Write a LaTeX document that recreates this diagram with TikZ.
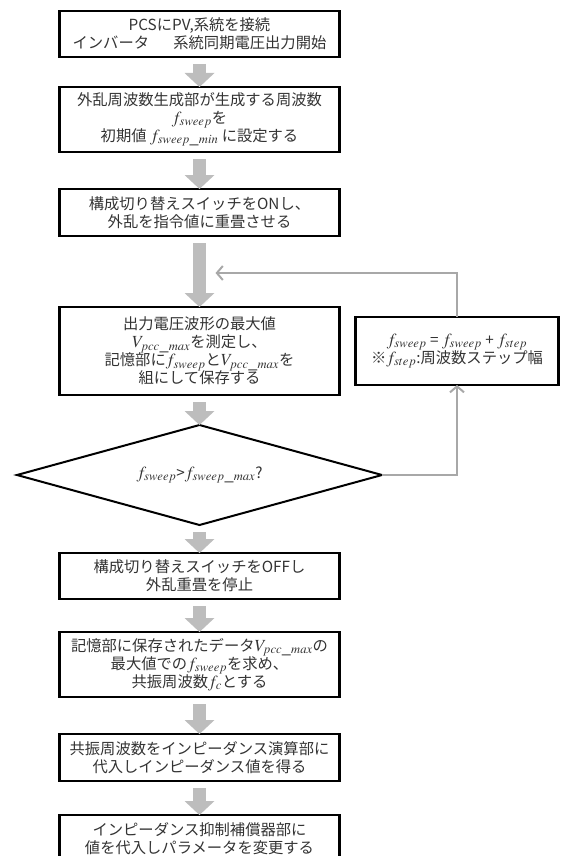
\documentclass[tikz,border=0pt]{standalone}
\usepackage{mathptmx}
\usepackage{fontspec}
\setmainfont{Noto Sans CJK JP}
\usepackage{tikz}
\usetikzlibrary{shapes.geometric, arrows.meta, positioning, calc}

\definecolor{flowgray}{HTML}{BDBDBD}
\definecolor{loopgray}{HTML}{A8A8A8}
\newcommand{\mv}[1]{{\fontsize{17pt}{17pt}\selectfont$#1$}}
\newcommand{\boxfont}{\fontsize{15.3pt}{18pt}\selectfont\lineskiplimit=-100pt\lineskip=0pt\relax}

\begin{document}
\begin{tikzpicture}[
x=1pt, y=-1pt,
node distance=30pt,
>=Stealth,
block/.style={draw, line width=2.3pt, outer sep=0pt, minimum width=280pt, align=center, inner sep=1pt,
  text=black!80, font=\boxfont},
decision/.style={block, diamond, aspect=3.65, inner sep=0pt, minimum width=365pt, minimum height=100pt, line width=2pt},
update/.style={block, minimum width=203pt, minimum height=68pt},
flow/.style={flowgray, line width=13pt, -{Triangle[length=14pt, width=30pt, line width=0pt]}},
loop/.style={loopgray, line width=2pt, -{Straight Barb[length=6pt, width=14pt]}}
]
\useasboundingbox (0,0) rectangle (564,856);

% --- Noeuds ---
\node[block, minimum height=46pt] (connect) at (199.5,34)
  {PCSにPV,系統を接続\\インバータ　\hspace{9pt}系統同期電圧出力開始};
\node[block, minimum height=65pt, below=of connect] (initf)
  {外乱周波数生成部が生成する周波数\\\mv{f_{sweep}}を\\初期値 \mv{f_{sweep\_min}} に設定する};
\node[block, minimum height=47pt, below=37pt of initf] (swon)
  {構成切り替えスイッチをONし、\\外乱を指令値に重畳させる};
\node[block, minimum height=88pt, below=71pt of swon] (measure)
  {出力電圧波形の最大値\\\mv{V_{pcc\_max}}を測定し、\\記憶部に\mv{f_{sweep}}と\mv{V_{pcc\_max}}を\\組にして保存する};
\node[decision, below=of measure] (check) {\mv{f_{sweep}}>\mv{f_{sweep\_max}}?};
\node[block, minimum height=46pt, below=28pt of check] (swoff)
  {構成切り替えスイッチをOFFし\\外乱重畳を停止};
\node[block, minimum height=65pt, below=33pt of swoff] (findfc)
  {記憶部に保存されたデータ\mv{V_{pcc\_max}}の\\最大値での\mv{f_{sweep}}を求め、\\共振周波数\mv{f_c}とする};
\node[block, minimum height=47pt, below=37pt of findfc] (calcz)
  {共振周波数をインピーダンス演算部に\\代入しインピーダンス値を得る};
\node[block, minimum height=47pt, below=34pt of calcz] (setpar)
  {インピーダンス抑制補償器部に\\値を代入しパラメータを変更する};

\node[update, right=16pt of measure] (step)
  {\mv{f_{sweep}} = \mv{f_{sweep}} + \mv{f_{step}}\\※\mv{f_{step}}:周波数ステップ幅};

% --- Fleches principales ---
\foreach \a/\b in {connect/initf, initf/swon, swon/measure, measure/check,
                   check/swoff, swoff/findfc, findfc/calcz, calcz/setpar}
  \draw[flow] ([yshift=-7pt]\a.south) -- (\b.north);

% --- Boucle de balayage ---
\coordinate (loopin) at ($(swon.south)+(16pt,-37pt)$);
\draw[loop] (check.east) -| (step.south);
\draw[loop] (step.north) |- (loopin);

\end{tikzpicture}
\end{document}
